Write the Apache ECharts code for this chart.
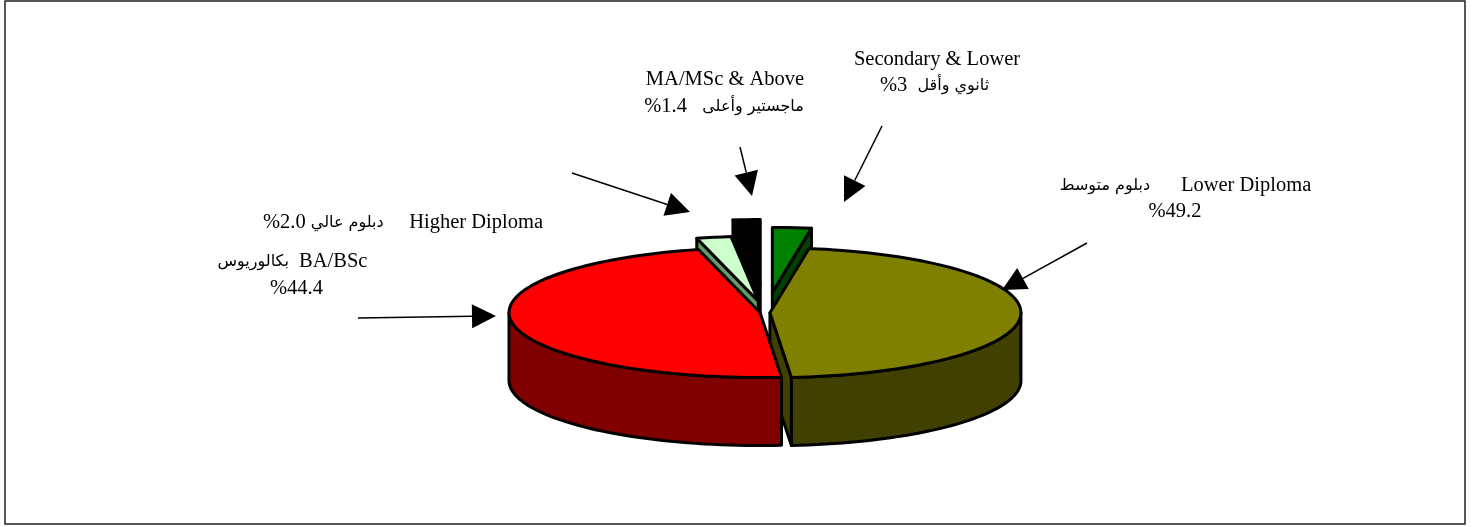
<!DOCTYPE html>
<html lang="ar" dir="ltr">
<head>
<meta charset="utf-8">
<title>Education level</title>
<style>
  html, body { margin: 0; padding: 0; background: #fff; }
  #chart { width: 1472px; height: 527px; }
</style>
<script src="https://cdn.jsdelivr.net/npm/echarts@6/dist/echarts.min.js"></script>
</head>
<body>
<div id="chart"></div>
<script>
  // data, clockwise from 12 o'clock
  var categories = ['Secondary & Lower', 'Lower Diploma', 'BA/BSc', 'Higher Diploma', 'MA/MSc & Above'];
  var values = [3.0, 49.2, 44.4, 2.0, 1.4];
  // label lines, pieces in the order they read on the page
  var labelSecondary = ['Secondary & Lower', '{en|%3}  {ar|ثانوي وأقل}'];
  var labelLower = ['{ar|دبلوم متوسط}      {en|Lower Diploma}', '%49.2'];
  var labelBachelor = ['{ar|بكالوريوس}  {en|BA/BSc}', '%44.4'];
  var labelHigher = ['{en|%2.0} {ar|دبلوم عالي}     {en|Higher Diploma}'];
  var labelMaster = ['MA/MSc & Above', '{en|%1.4}   {ar|ماجستير وأعلى}'];

  // look of each slice, same order as the data
  var topColors = ['#008000', '#808000', '#ff0000', '#ccffcc', '#000000'];
  var sideColors = ['#004000', '#404000', '#800000', '#669966', '#000000'];
  var explode = [78, 5, 5, 44, 108];
  var drawOrder = [2, 3, 4, 1, 0];

  var CX = 765, CY = 312.5, RX = 251, RY = 65, DEPTH = 68;
  var LATIN = '"Liberation Serif", serif';
  var ARABIC = '"DejaVu Sans", sans-serif';

  var total = values.reduce(function (a, b) { return a + b; }, 0);

  // the tilted view does not keep angles: front slices shift, back ones a bit less
  function warp(deg) {
    var r = deg * Math.PI / 180;
    return deg - 5.7 * (1 - Math.cos(r)) - 4 * Math.sqrt(Math.abs(Math.sin(r)));
  }

  function rim(apex, deg, drop) {
    var r = deg * Math.PI / 180;
    return [apex[0] + RX * Math.sin(r), apex[1] - RY * Math.cos(r) + (drop || 0)];
  }

  function arc(apex, from, to, drop) {
    var pts = [];
    var steps = Math.max(2, Math.ceil(Math.abs(to - from) / 2));
    for (var i = 0; i <= steps; i++) {
      pts.push(rim(apex, from + (to - from) * i / steps, drop));
    }
    return pts;
  }

  function poly(points, fill, z2) {
    return {
      type: 'polygon',
      z2: z2,
      shape: { points: points },
      style: { fill: fill, stroke: '#000', lineWidth: 3, lineJoin: 'round' }
    };
  }

  function cutWall(apex, deg, fill, z2) {
    var p = rim(apex, deg);
    return poly([apex, p, [p[0], p[1] + DEPTH], [apex[0], apex[1] + DEPTH]], fill, z2);
  }

  function renderSlice(params, api) {
    var i = params.dataIndex;
    var before = 0;
    for (var k = 0; k < i; k++) { before += values[k]; }
    var start = before / total * 360;
    var end = start + api.value(0) / total * 360;
    var mid = (start + end) / 2 * Math.PI / 180;
    var t0 = warp(start), t1 = warp(end);
    var apex = [
      CX + explode[i] * Math.sin(mid),
      CY - explode[i] * RY / RX * Math.cos(mid)
    ];
    var z = drawOrder[i] * 10;
    var children = [];

    // walls that face the viewer, then the front of the rim, then the top
    if (Math.sin(t0 * Math.PI / 180) < -0.001) {
      children.push(cutWall(apex, t0, sideColors[i], z));
    }
    if (Math.sin(t1 * Math.PI / 180) > 0.001) {
      children.push(cutWall(apex, t1, sideColors[i], z));
    }
    var a = Math.max(t0, 90), b = Math.min(t1, 270);
    if (b > a) {
      children.push(poly(arc(apex, a, b).concat(arc(apex, b, a, DEPTH)), sideColors[i], z + 1));
    }
    children.push(poly([apex].concat(arc(apex, t0, t1)), topColors[i], z + 2));

    return { type: 'group', children: children };
  }

  function textLine(text, x, y) {
    return {
      type: 'text',
      x: x,
      y: y,
      style: {
        text: text,
        fill: '#000',
        fontSize: 20.5,
        fontFamily: LATIN,
        align: 'center',
        verticalAlign: 'middle',
        rich: {
          en: { fontSize: 20.5, fontFamily: LATIN, fill: '#000' },
          ar: { fontSize: 16, fontFamily: ARABIC, fill: '#000' }
        }
      }
    };
  }

  // arrow from the label towards its slice
  function arrow(x1, y1, x2, y2) {
    var len = Math.sqrt((x2 - x1) * (x2 - x1) + (y2 - y1) * (y2 - y1));
    var ux = (x2 - x1) / len, uy = (y2 - y1) / len;
    var bx = x2 - ux * 24, by = y2 - uy * 24;
    return [{
      type: 'line',
      shape: { x1: x1, y1: y1, x2: bx, y2: by },
      style: { stroke: '#000', lineWidth: 1.5 }
    }, {
      type: 'polygon',
      shape: { points: [[x2, y2], [bx - uy * 12, by + ux * 12], [bx + uy * 12, by - ux * 12]] },
      style: { fill: '#000' }
    }];
  }

  var annotations = [].concat(
    [{
      type: 'rect',
      shape: { x: 5, y: 1, width: 1460, height: 523 },
      style: { fill: 'none', stroke: '#222', lineWidth: 1.5 }
    }],
    arrow(740, 147, 752, 196),
    arrow(882, 126, 844, 202),
    arrow(1087, 243, 1002, 290),
    arrow(358, 318, 496, 316),
    arrow(572, 173, 690, 212),
    [
      textLine(labelSecondary[0], 937, 60),
      textLine(labelSecondary[1], 934.5, 86),
      textLine(labelMaster[0], 725, 80),
      textLine(labelMaster[1], 724, 107),
      textLine(labelLower[0], 1185.5, 186),
      textLine(labelLower[1], 1175, 212),
      textLine(labelHigher[0], 403, 223),
      textLine(labelBachelor[0], 292.5, 262),
      textLine(labelBachelor[1], 296.5, 289)
    ]
  );

  var myChart = echarts.init(document.getElementById('chart'), null, { renderer: 'canvas' });
  myChart.setOption({
    animation: false,
    backgroundColor: '#fff',
    graphic: annotations,
    series: [{
      type: 'custom',
      coordinateSystem: 'none',
      name: 'Education',
      renderItem: renderSlice,
      data: values.map(function (v, i) {
        return { name: categories[i], value: [v] };
      })
    }]
  });
</script>
</body>
</html>
